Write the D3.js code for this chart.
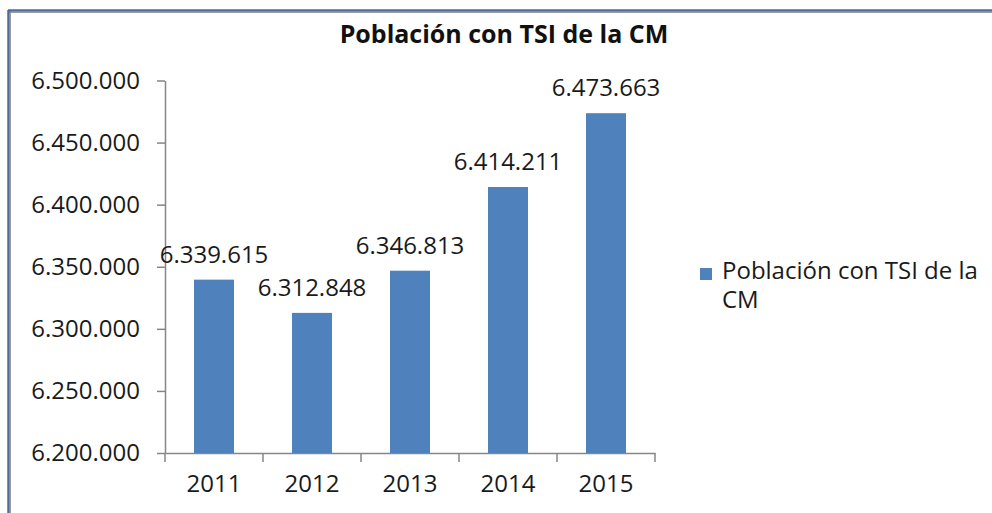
<!DOCTYPE html>
<html>
<head>
<meta charset="utf-8">
<script src="https://cdn.jsdelivr.net/npm/d3@7"></script>
<style>
  body { margin: 0; background: #fff; }
  svg { display: block; font-family: "Open Sans", sans-serif; }
  .axis path, .axis line { stroke: #868686; stroke-width: 1.5; }
  .axis text { fill: #1a1a1a; font-size: 24px; font-family: "Open Sans", sans-serif; }
</style>
</head>
<body>
<svg width="992" height="513"></svg>
<script>
var years = ["2011", "2012", "2013", "2014", "2015"];
var poblacion = [6339615, 6312848, 6346813, 6414211, 6473663];
var yTicks = [6200000, 6250000, 6300000, 6350000, 6400000, 6450000, 6500000];
var serieName = "Población con TSI de la CM";

var svg = d3.select("svg"),
    margin = {top: 80.5, right: 337, bottom: 60, left: 165},
    width = +svg.attr("width") - margin.left - margin.right,
    height = +svg.attr("height") - margin.top - margin.bottom;

// miles con punto, como en el original
var fmt = d3.formatLocale({decimal: ",", thousands: ".", grouping: [3], currency: ["", "€"]}).format(",d");

// marco del gráfico (solo se ven borde superior e izquierdo)
svg.append("line").attr("x1", 10.5).attr("x2", 10.5).attr("y1", 11).attr("y2", 513)
    .attr("stroke", "#9a9a9a").attr("stroke-width", 1);
svg.append("line").attr("x1", 9).attr("x2", 992).attr("y1", 12.5).attr("y2", 12.5)
    .attr("stroke", "#9a9a9a").attr("stroke-width", 1);
svg.append("line").attr("x1", 8.5).attr("x2", 8.5).attr("y1", 10).attr("y2", 513)
    .attr("stroke", "#4a6da0").attr("stroke-width", 2.5);
svg.append("line").attr("x1", 8).attr("x2", 992).attr("y1", 10.5).attr("y2", 10.5)
    .attr("stroke", "#4a6da0").attr("stroke-width", 2.5);

svg.append("text")
    .attr("x", 504)
    .attr("y", 43)
    .attr("text-anchor", "middle")
    .attr("font-weight", "bold")
    .attr("font-size", "25px")
    .attr("fill", "#111")
    .text(serieName);

var y = d3.scaleLinear().domain([6200000, 6500000]).range([height, 0]);
var xTick = d3.scaleBand().domain(years).range([0, width]);

var g = svg.append("g")
    .attr("transform", "translate(" + margin.left + "," + margin.top + ")");

g.append("g")
    .attr("class", "axis")
    .call(d3.axisLeft(y).tickValues(yTicks).tickFormat(fmt).tickSize(8).tickSizeOuter(0).tickPadding(17));

var xa = g.append("g")
    .attr("class", "axis")
    .attr("transform", "translate(0," + height + ")")
    .call(d3.axisBottom(xTick).tickSize(0).tickSizeOuter(0).tickPadding(22));

// marcas de separación entre categorías
xa.selectAll(".sep")
    .data(d3.range(years.length + 1))
  .enter().append("line")
    .attr("class", "sep")
    .attr("x1", function(i) { return i * xTick.step(); })
    .attr("x2", function(i) { return i * xTick.step(); })
    .attr("y1", 0)
    .attr("y2", 9);

g.selectAll(".bar")
    .data(years)
  .enter().append("rect")
    .attr("class", "bar")
    .attr("x", function(d) { return xTick(d) + (xTick.bandwidth() - 40) / 2; })
    .attr("width", 40)
    .attr("y", function(d, i) { return y(poblacion[i]); })
    .attr("height", function(d, i) { return height - y(poblacion[i]); })
    .attr("fill", "#4f81bd");

g.selectAll(".lbl")
    .data(years)
  .enter().append("text")
    .attr("class", "lbl")
    .attr("x", function(d) { return xTick(d) + xTick.bandwidth() / 2; })
    .attr("y", function(d, i) { return y(poblacion[i]) - 17; })
    .attr("text-anchor", "middle")
    .attr("font-size", "24px")
    .attr("fill", "#1a1a1a")
    .text(function(d, i) { return fmt(poblacion[i]); });

// leyenda
var lg = svg.append("g").attr("transform", "translate(700,268)");
lg.append("rect").attr("width", 12).attr("height", 12).attr("fill", "#4f81bd");
lg.append("text").attr("x", 22).attr("y", 11).attr("font-size", "24px").attr("fill", "#1a1a1a")
    .text("Población con TSI de la");
lg.append("text").attr("x", 22).attr("y", 40).attr("font-size", "24px").attr("fill", "#1a1a1a")
    .text("CM");
</script>
</body>
</html>
